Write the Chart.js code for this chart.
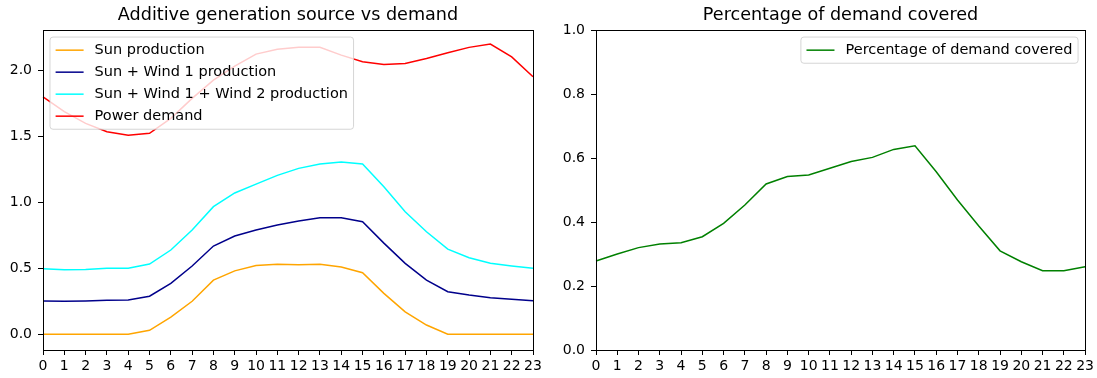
<!DOCTYPE html>
<html>
<head>
<meta charset="utf-8">
<script src="https://cdn.jsdelivr.net/npm/chart.js@4.4.0/dist/chart.umd.min.js"></script>
<style>
  body { margin: 0; background: #fff; }
  #wrap { position: relative; width: 1097px; height: 378px; }
  canvas { position: absolute; top: 0; }
</style>
</head>
<body>
<div id="wrap">
  <canvas id="genChart" width="548" height="378" style="left:0"></canvas>
  <canvas id="pctChart" width="549" height="378" style="left:548px"></canvas>
</div>
<script>
// hours of the day
const hours = ['0','1','2','3','4','5','6','7','8','9','10','11','12','13','14','15','16','17','18','19','20','21','22','23'];

// left chart: additive generation vs demand
const sunProd   = [0, 0, 0, 0, 0, 0.03, 0.13, 0.25, 0.41, 0.48, 0.52, 0.53, 0.527, 0.53, 0.51, 0.466, 0.31, 0.17, 0.07, 0, 0, 0, 0, 0];
const sunWind1  = [0.252, 0.25, 0.252, 0.257, 0.26, 0.288, 0.386, 0.517, 0.668, 0.744, 0.789, 0.827, 0.857, 0.882, 0.882, 0.852, 0.69, 0.537, 0.41, 0.322, 0.297, 0.277, 0.265, 0.254];
const sunWind12 = [0.497, 0.489, 0.49, 0.5, 0.5, 0.532, 0.638, 0.789, 0.966, 1.07, 1.137, 1.203, 1.256, 1.289, 1.304, 1.289, 1.117, 0.928, 0.776, 0.645, 0.58, 0.537, 0.517, 0.5];
const demand    = [1.798, 1.685, 1.597, 1.533, 1.506, 1.521, 1.635, 1.786, 1.924, 2.03, 2.121, 2.157, 2.172, 2.172, 2.113, 2.063, 2.043, 2.05, 2.088, 2.131, 2.172, 2.197, 2.1, 1.949];
const leftTicks = [0, 0.5, 1, 1.5, 2];

// right chart: percentage covered
const covered = [0.278, 0.3, 0.32, 0.331, 0.335, 0.354, 0.396, 0.453, 0.519, 0.542, 0.547, 0.568, 0.589, 0.602, 0.627, 0.638, 0.557, 0.469, 0.3875, 0.31, 0.276, 0.248, 0.248, 0.26];
const rightTicks = [0, 0.2, 0.4, 0.6, 0.8, 1];

const FONT = '"DejaVu Sans", sans-serif';

// frame (all 4 spines) + matplotlib style legend inside the axes
const boxLegend = {
  id: 'boxLegend',
  afterDatasetsDraw(chart, args, opts) {
    const ctx = chart.ctx, a = chart.chartArea;
    ctx.save();
    ctx.strokeStyle = '#000';
    ctx.lineWidth = 1;
    ctx.strokeRect(Math.round(a.left) + 0.5, Math.round(a.top) + 0.5,
                   Math.round(a.right - a.left), Math.round(a.bottom - a.top));

    const fs = 14.5, pad = 5.6, handle = 28, gap = 11, spacing = 7, rowH = 15;
    ctx.font = fs + 'px ' + FONT;
    const items = chart.data.datasets;
    const tw = Math.max(...items.map(d => ctx.measureText(d.label).width));
    const w = pad * 2 + handle + gap + tw;
    const h = pad * 2 + items.length * rowH + (items.length - 1) * spacing;
    const x = opts.align === 'right' ? a.right - 7 - w : a.left + 7;
    const y = a.top + 7;
    const r = 3;
    ctx.beginPath();
    ctx.moveTo(x + r, y);
    ctx.lineTo(x + w - r, y);
    ctx.quadraticCurveTo(x + w, y, x + w, y + r);
    ctx.lineTo(x + w, y + h - r);
    ctx.quadraticCurveTo(x + w, y + h, x + w - r, y + h);
    ctx.lineTo(x + r, y + h);
    ctx.quadraticCurveTo(x, y + h, x, y + h - r);
    ctx.lineTo(x, y + r);
    ctx.quadraticCurveTo(x, y, x + r, y);
    ctx.closePath();
    ctx.fillStyle = 'rgba(255,255,255,0.8)';
    ctx.fill();
    ctx.strokeStyle = 'rgba(204,204,204,0.8)';
    ctx.stroke();

    ctx.textBaseline = 'middle';
    ctx.textAlign = 'left';
    items.forEach((d, i) => {
      const cy = y + pad + i * (rowH + spacing) + rowH / 2;
      ctx.beginPath();
      ctx.moveTo(x + pad, cy);
      ctx.lineTo(x + pad + handle, cy);
      ctx.strokeStyle = d.borderColor;
      ctx.lineWidth = 1.5;
      ctx.stroke();
      ctx.fillStyle = '#000';
      ctx.fillText(d.label, x + pad + handle + gap, cy);
    });
    ctx.restore();
  }
};

function line(label, data, color) {
  return { label: label, data: data, borderColor: color, backgroundColor: color,
           borderWidth: 1.5, pointRadius: 0, tension: 0, fill: false };
}

function makeOptions(title, yMin, yMax, yTicks, yWidth, padRight, legendAlign) {
  return {
    responsive: false,
    animation: false,
    layout: { padding: { left: 0, right: padRight, top: 0, bottom: 0 } },
    plugins: {
      legend: { display: false },
      tooltip: { enabled: false },
      title: {
        display: true, text: title, fullSize: false, color: '#000',
        font: { family: FONT, size: 17.6, weight: 'normal', lineHeight: 1.14 },
        padding: { top: 5, bottom: 5 }
      },
      boxLegend: { align: legendAlign }
    },
    scales: {
      x: {
        offset: false,
        afterFit: s => { s.height = 28; },
        border: { display: false },
        grid: { drawOnChartArea: false, tickLength: 5, color: '#000', offset: false },
        ticks: { autoSkip: false, maxRotation: 0, padding: 3, color: '#000',
                 font: { family: FONT, size: 14 } }
      },
      y: {
        min: yMin, max: yMax,
        afterFit: s => { s.width = yWidth; },
        afterBuildTicks: s => { s.ticks = yTicks.map(v => ({ value: v })); },
        border: { display: false },
        grid: { drawOnChartArea: false, tickLength: 5, color: '#000' },
        ticks: { padding: 6, color: '#000', font: { family: FONT, size: 14 },
                 callback: v => Number(v).toFixed(1) }
      }
    }
  };
}

new Chart(document.getElementById('genChart'), {
  type: 'line',
  data: {
    labels: hours,
    datasets: [
      line('Sun production', sunProd, '#FFA500'),
      line('Sun + Wind 1 production', sunWind1, '#00008B'),
      line('Sun + Wind 1 + Wind 2 production', sunWind12, '#00FFFF'),
      line('Power demand', demand, '#FF0000')
    ]
  },
  options: makeOptions('Additive generation source vs demand', -0.119, 2.303, leftTicks, 43, 15, 'left'),
  plugins: [boxLegend]
});

new Chart(document.getElementById('pctChart'), {
  type: 'line',
  data: {
    labels: hours,
    datasets: [ line('Percentage of demand covered', covered, '#008000') ]
  },
  options: makeOptions('Percentage of demand covered', 0, 1, rightTicks, 48, 11, 'right'),
  plugins: [boxLegend]
});
</script>
</body>
</html>
